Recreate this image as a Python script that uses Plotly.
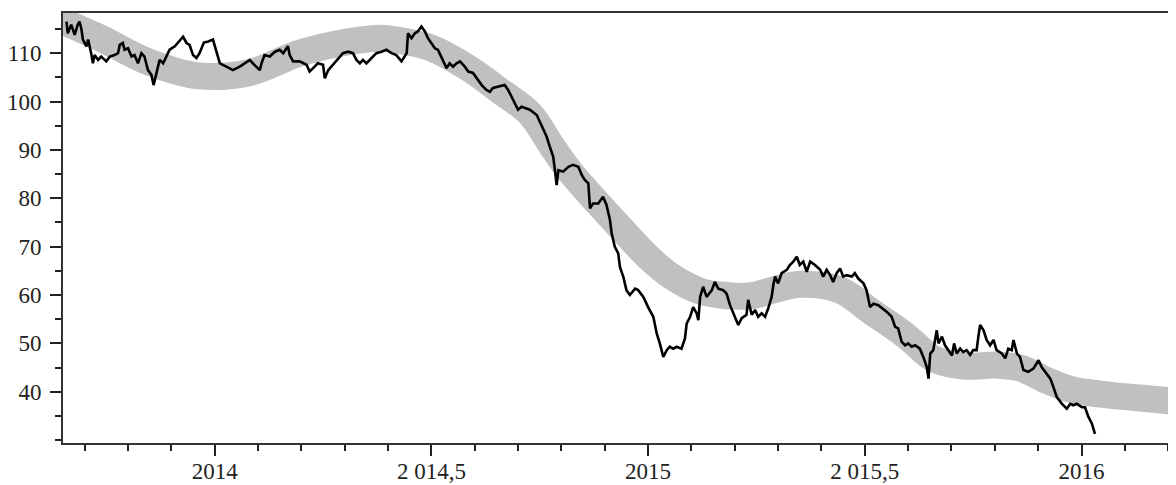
import plotly.graph_objects as go

# Black price series (year, value)
price_years = [
    2013.658, 2013.661, 2013.669, 2013.677, 2013.684, 2013.688, 2013.692, 2013.696, 2013.704, 2013.708,
    2013.715, 2013.719, 2013.723, 2013.731, 2013.738, 2013.750, 2013.758, 2013.769, 2013.777, 2013.781,
    2013.788, 2013.792, 2013.800, 2013.808, 2013.815, 2013.823, 2013.831, 2013.838, 2013.846, 2013.854,
    2013.859, 2013.865, 2013.873, 2013.881, 2013.889, 2013.896, 2013.908, 2013.915, 2013.927, 2013.935,
    2013.942, 2013.950, 2013.958, 2013.965, 2013.975, 2013.985, 2013.996, 2014.004, 2014.012, 2014.027,
    2014.042, 2014.058, 2014.069, 2014.081, 2014.088, 2014.096, 2014.104, 2014.108, 2014.115, 2014.127,
    2014.139, 2014.150, 2014.158, 2014.169, 2014.173, 2014.181, 2014.196, 2014.212, 2014.219, 2014.227,
    2014.238, 2014.250, 2014.254, 2014.262, 2014.273, 2014.281, 2014.289, 2014.296, 2014.308, 2014.319,
    2014.327, 2014.335, 2014.342, 2014.350, 2014.362, 2014.373, 2014.385, 2014.396, 2014.408, 2014.419,
    2014.431, 2014.443, 2014.446, 2014.454, 2014.462, 2014.469, 2014.477, 2014.485, 2014.492, 2014.500,
    2014.508, 2014.515, 2014.527, 2014.535, 2014.542, 2014.550, 2014.558, 2014.566, 2014.577, 2014.585,
    2014.596, 2014.608, 2014.616, 2014.627, 2014.635, 2014.642, 2014.658, 2014.669, 2014.677, 2014.689,
    2014.700, 2014.708, 2014.720, 2014.727, 2014.743, 2014.750, 2014.758, 2014.766, 2014.773, 2014.781,
    2014.785, 2014.789, 2014.793, 2014.804, 2014.816, 2014.827, 2014.839, 2014.847, 2014.854, 2014.862,
    2014.866, 2014.873, 2014.885, 2014.896, 2014.904, 2014.912, 2014.916, 2014.923, 2014.931, 2014.935,
    2014.943, 2014.950, 2014.958, 2014.970, 2014.977, 2014.989, 2015.000, 2015.012, 2015.020, 2015.027,
    2015.035, 2015.043, 2015.050, 2015.058, 2015.066, 2015.077, 2015.085, 2015.089, 2015.097, 2015.104,
    2015.112, 2015.116, 2015.120, 2015.127, 2015.135, 2015.147, 2015.154, 2015.162, 2015.173, 2015.181,
    2015.189, 2015.200, 2015.208, 2015.216, 2015.227, 2015.231, 2015.239, 2015.247, 2015.254, 2015.262,
    2015.270, 2015.277, 2015.285, 2015.289, 2015.293, 2015.300, 2015.308, 2015.320, 2015.327, 2015.335,
    2015.343, 2015.350, 2015.358, 2015.366, 2015.374, 2015.385, 2015.397, 2015.404, 2015.412, 2015.420,
    2015.427, 2015.435, 2015.443, 2015.450, 2015.458, 2015.470, 2015.477, 2015.485, 2015.497, 2015.504,
    2015.512, 2015.520, 2015.531, 2015.551, 2015.562, 2015.570, 2015.577, 2015.585, 2015.593, 2015.600,
    2015.608, 2015.616, 2015.627, 2015.635, 2015.643, 2015.647, 2015.651, 2015.658, 2015.666, 2015.670,
    2015.678, 2015.685, 2015.693, 2015.701, 2015.706, 2015.712, 2015.720, 2015.727, 2015.735, 2015.743,
    2015.750, 2015.758, 2015.762, 2015.766, 2015.774, 2015.781, 2015.789, 2015.797, 2015.804, 2015.816,
    2015.824, 2015.831, 2015.839, 2015.843, 2015.851, 2015.858, 2015.866, 2015.877, 2015.889, 2015.901,
    2015.908, 2015.920, 2015.928, 2015.935, 2015.943, 2015.955, 2015.966, 2015.974, 2015.981, 2015.989,
    2016.001, 2016.008, 2016.016, 2016.024, 2016.031,
]
price_values = [
    116.5, 114.1, 115.9, 113.8, 115.9, 116.5, 115.2, 112.8, 111.4, 112.8,
    110.0, 107.9, 109.6, 108.6, 109.3, 108.3, 109.3, 109.6, 110.0, 111.7,
    112.1, 110.7, 111.0, 109.3, 109.6, 107.9, 110.0, 109.3, 106.5, 105.5,
    103.4, 105.5, 108.6, 107.9, 109.3, 110.7, 111.4, 112.1, 113.4, 112.1,
    111.7, 109.6, 109.0, 110.0, 112.2, 112.4, 112.8, 110.3, 107.9, 107.2,
    106.5, 107.2, 107.9, 108.6, 107.9, 107.2, 106.5, 107.9, 109.6, 109.3,
    110.3, 110.7, 110.0, 111.4, 109.6, 108.3, 108.3, 107.6, 106.2, 106.9,
    107.9, 107.6, 104.8, 106.5, 107.6, 108.3, 109.3, 110.0, 110.3, 110.0,
    108.6, 107.9, 108.6, 107.9, 109.0, 110.0, 110.3, 110.7, 110.0, 109.6,
    108.3, 110.0, 114.1, 113.1, 114.1, 114.5, 115.5, 114.5, 113.1, 112.1,
    111.0, 110.7, 108.3, 106.9, 107.9, 107.2, 107.9, 108.3, 107.2, 106.2,
    105.9, 104.5, 103.4, 102.4, 102.0, 102.8, 103.1, 103.4, 102.4, 100.3,
    98.3, 98.9, 98.6, 98.3, 97.2, 95.8, 94.1, 92.7, 90.7, 88.6,
    85.8, 82.7, 85.8, 85.5, 86.5, 86.9, 86.5, 84.8, 83.8, 83.1,
    77.9, 78.9, 78.9, 80.3, 78.6, 75.5, 72.7, 70.0, 68.6, 65.8,
    63.7, 61.0, 60.0, 61.3, 61.0, 59.6, 57.5, 55.5, 52.0, 50.0,
    47.2, 48.6, 49.3, 48.9, 49.3, 48.9, 51.0, 54.1, 55.5, 57.5,
    56.2, 54.8, 59.6, 61.7, 59.6, 61.0, 62.7, 61.3, 61.0, 60.3,
    57.9, 55.5, 53.8, 55.2, 55.9, 59.0, 55.9, 56.9, 55.5, 56.2,
    55.5, 57.2, 59.6, 62.1, 63.8, 62.4, 64.5, 65.2, 66.2, 66.9,
    67.9, 66.2, 66.9, 64.8, 66.9, 66.2, 65.2, 63.8, 65.2, 64.1,
    62.7, 64.5, 65.5, 63.8, 64.1, 63.8, 64.5, 63.4, 62.4, 61.0,
    57.5, 58.2, 57.9, 56.5, 55.5, 53.4, 53.1, 50.3, 49.6, 50.0,
    49.3, 49.6, 48.9, 47.2, 45.1, 42.7, 47.9, 48.6, 52.7, 50.0,
    51.4, 49.6, 48.6, 47.5, 50.0, 47.9, 48.9, 48.2, 48.6, 47.6,
    48.6, 48.6, 51.4, 53.8, 52.7, 50.7, 49.6, 50.7, 48.6, 47.9,
    46.9, 48.9, 48.6, 50.7, 47.9, 47.2, 44.5, 44.1, 44.8, 46.5,
    45.1, 43.7, 42.7, 41.0, 38.9, 37.5, 36.5, 37.5, 37.2, 37.5,
    36.8, 36.8, 34.8, 33.4, 31.3,
]

# Smooth grey trend band (centre line)
trend_years = [
    2013.640, 2013.665, 2013.735, 2013.850, 2013.965, 2014.081, 2014.196, 2014.312, 2014.381, 2014.427,
    2014.496, 2014.589, 2014.658, 2014.727, 2014.780, 2014.820, 2014.889, 2014.935, 2015.004, 2015.050,
    2015.120, 2015.166, 2015.235, 2015.288, 2015.350, 2015.443, 2015.519, 2015.581, 2015.611, 2015.657,
    2015.727, 2015.805, 2015.858, 2015.921, 2015.974, 2016.043, 2016.135, 2016.230,
]
trend_values = [
    117.2, 116.0, 113.2, 108.1, 105.3, 106.0, 110.0, 112.4, 113.1, 112.6,
    111.2, 106.7, 102.2, 97.5, 90.5, 85.5, 78.5, 74.0, 67.5, 64.1,
    60.8, 60.0, 59.8, 61.0, 62.2, 61.0, 56.3, 52.5, 50.3, 46.9,
    45.3, 45.5, 44.9, 42.3, 40.5, 39.5, 38.7, 37.9,
]

x_tick_values = [2014, 2014.5, 2015, 2015.5, 2016]
x_tick_labels = ["2014", "2 014,5", "2015", "2 015,5", "2016"]
y_tick_values = [40, 50, 60, 70, 80, 90, 100, 110]
y_tick_labels = ["40", "50", "60", "70", "80", "90", "100", "110"]

x_range = [2013.650, 2016.218]
y_range = [29.4, 118.3]

fig = go.Figure()
fig.add_trace(go.Scatter(
    x=trend_years, y=trend_values, mode="lines",
    line=dict(color="#c0c0c0", width=27, shape="spline", smoothing=1.0),
    hoverinfo="skip", showlegend=False,
))
fig.add_trace(go.Scatter(
    x=price_years, y=price_values, mode="lines",
    line=dict(color="#000000", width=2.6),
    showlegend=False,
))

font = dict(family="Liberation Serif, Times New Roman, serif", size=23, color="#222222")

# The page body adds an 8 px offset, so the figure is sized to fit inside the window
fig.update_layout(
    width=1168, height=477,
    margin=dict(l=55, r=0, t=5, b=42, autoexpand=False),
    paper_bgcolor="white", plot_bgcolor="white",
    font=font,
    showlegend=False,
)
fig.update_xaxes(
    range=x_range, showgrid=False, zeroline=False, automargin=False,
    showline=True, linecolor="#333333", linewidth=2, mirror=True,
    ticks="outside", ticklen=11, tickwidth=1.5, tickcolor="#222222",
    tickvals=x_tick_values, ticktext=x_tick_labels, tickfont=font,
    ticklabelstandoff=-5,
    minor=dict(tick0=2014, dtick=0.1, ticks="outside", ticklen=6, tickwidth=1.5, tickcolor="#222222", showgrid=False),
)
fig.update_yaxes(
    range=y_range, showgrid=False, zeroline=False, automargin=False,
    showline=True, linecolor="#333333", linewidth=2, mirror=False,
    ticks="outside", ticklen=11, tickwidth=1.5, tickcolor="#222222",
    tickvals=y_tick_values, ticktext=y_tick_labels, tickfont=font,
    ticklabelstandoff=4,
    minor=dict(tick0=0, dtick=5, ticks="outside", ticklen=6, tickwidth=1.5, tickcolor="#222222", showgrid=False),
)

fig.write_html("out.html")
